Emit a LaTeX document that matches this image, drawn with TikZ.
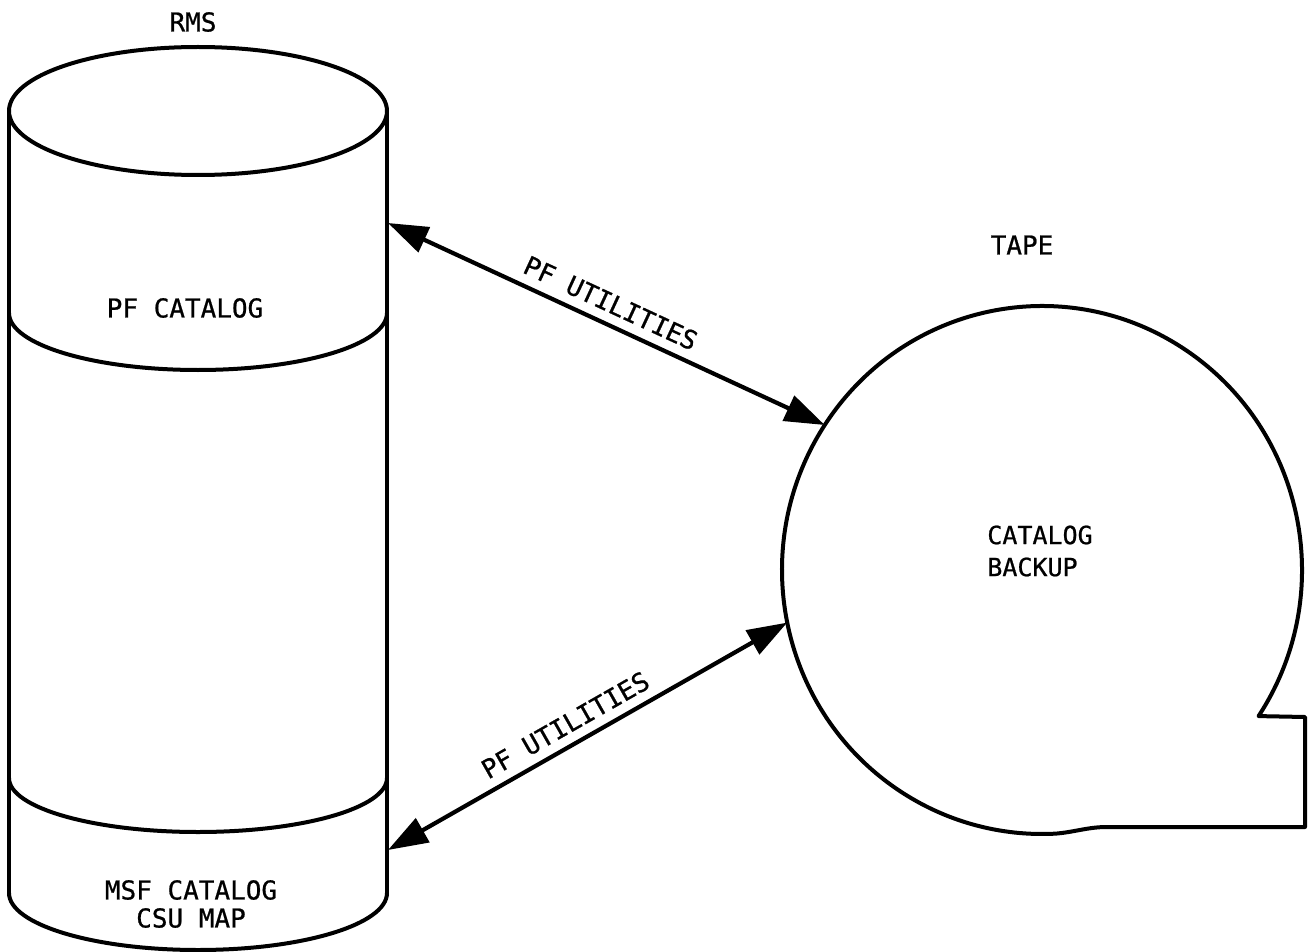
\documentclass[tikz,border=0pt]{standalone}
\usepackage{fontspec}
\setmonofont[FakeBold=0.8]{DejaVu Sans Mono}
\usetikzlibrary{arrows.meta}
\tikzset{
  outline/.style={line width=4pt, line join=round, line cap=round},
  txt/.style={font=\ttfamily\fontsize{26}{28}\selectfont, inner sep=2pt},
  flow/.style={line width=4.2pt, {Triangle[length=40pt,width=27pt]}-{Triangle[length=40pt,width=27pt]}},
}
\begin{document}
\begin{tikzpicture}[x=1pt,y=1pt]
\useasboundingbox (0,0) rectangle (1309,-952);
% cylinder (RMS)
\draw[outline] (198,-111) ellipse [x radius=189pt, y radius=64pt];
\draw[outline] (9,-111) -- (9,-893);
\draw[outline] (387,-111) -- (387,-893);
\draw[outline] (9,-313) arc[start angle=180, end angle=360, x radius=189pt, y radius=57pt];
\draw[outline] (9,-778) arc[start angle=180, end angle=360, x radius=189pt, y radius=54pt];
\draw[outline] (9,-893) arc[start angle=180, end angle=360, x radius=189pt, y radius=57pt];
\node[txt] (rms) at (193,-22) {RMS};
\node[txt] (pfcat) at (185,-308) {PF CATALOG};
\node[txt, align=center] (msf) at (191,-904) {MSF CATALOG\\CSU MAP};
\coordinate (cylUp) at (388,-223);
\coordinate (cylLo) at (388,-850);
% tape
\draw[outline] (1042,-570) ++(-33.6:260pt and 264pt)
  arc[start angle=-33.6, end angle=273, x radius=260pt, y radius=264pt]
  .. controls (1075,-832) and (1088,-827) .. (1107,-827)
  -- (1305,-827) -- (1305,-717) -- cycle;
\node[txt] (tape) at (1022,-245) {TAPE};
\node[txt, align=left, font=\ttfamily\fontsize{25}{32}\selectfont] (backup) at (1040,-551) {CATALOG\\BACKUP};
\coordinate (tapeUp) at (824.7,-425);
\coordinate (tapeLo) at (787.2,-622.6);
% connectors
\draw[flow] (cylUp) -- (tapeUp) node[txt, sloped, above=7pt, pos=0.49] {PF UTILITIES};
\draw[flow] (cylLo) -- (tapeLo) node[txt, sloped, above=7pt, pos=0.47] {PF UTILITIES};
\end{tikzpicture}
\end{document}
